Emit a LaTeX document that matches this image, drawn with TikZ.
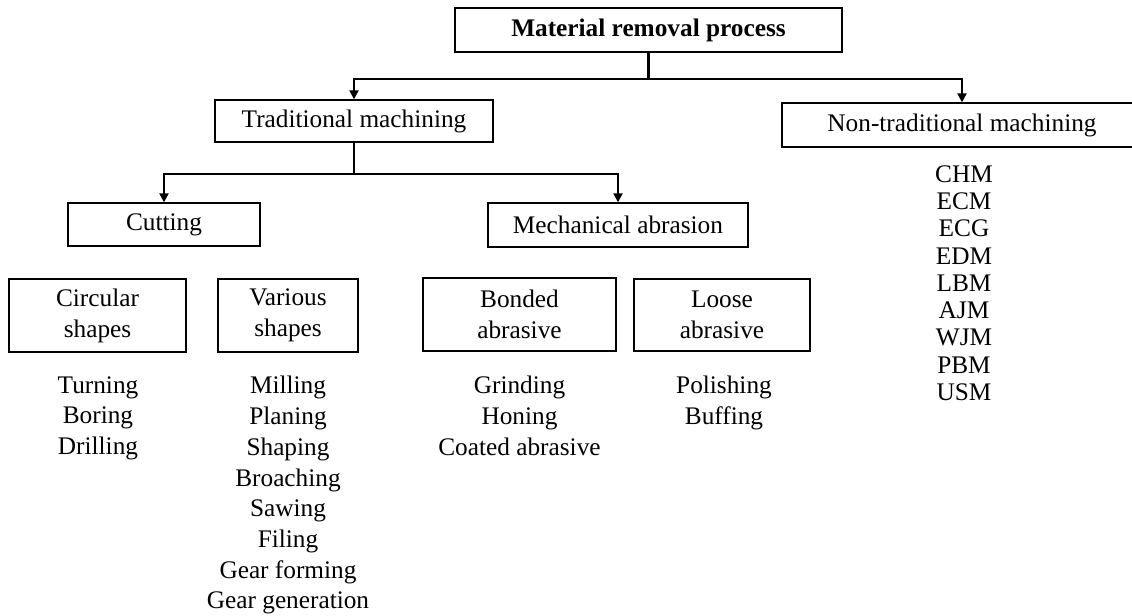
\documentclass[tikz,border=0pt]{standalone}
\usepackage{fontspec}
\setmainfont{Liberation Serif}
\usetikzlibrary{arrows.meta}
\begin{document}
\begin{tikzpicture}[x=0.5pt,y=-0.5pt,
  box/.style={draw, line width=0.7pt, inner sep=0pt, align=center,
    font=\fontsize{12.65}{15.5}\selectfont},
  lst/.style={align=center, inner sep=0pt, anchor=north,
    font=\fontsize{12.65}{15.35}\selectfont},
  lstb/.style={lst, font=\fontsize{12.65}{13.65}\selectfont},
  conn/.style={line width=1.1pt},
  arr/.style={conn, -{Triangle[length=4.5pt,width=4.5pt]}}]
\useasboundingbox (0,0) rectangle (1132,616);
% boxes
\node[box, minimum width=193.5pt, minimum height=22pt, font=\fontsize{12.65}{15.5}\selectfont\bfseries] (top) at (648.5,30) {Material removal process};
\node[box, minimum width=139pt, minimum height=21pt] (trad) at (354,121) {Traditional machining};
\node[box, minimum width=180pt, minimum height=22pt] (nt) at (962,125) {Non-traditional machining};
\node[box, minimum width=96pt, minimum height=21.5pt] (cut) at (164,224.5) {Cutting};
\node[box, minimum width=130pt, minimum height=22pt] (mech) at (618,225) {Mechanical abrasion};
\node[box, minimum width=88.5pt, minimum height=36.5pt] (circ) at (97.5,315.5) {Circular\\shapes};
\node[box, minimum width=70pt, minimum height=36.5pt] (var) at (288,315.5) {Various\\shapes};
\node[box, minimum width=96.5pt, minimum height=36.5pt] (bond) at (519.5,314.5) {Bonded\\abrasive};
\node[box, minimum width=88pt, minimum height=36pt] (loose) at (722,315) {Loose\\abrasive};
% connectors
\draw[conn] (top.south) -- ++(0,26) coordinate (j1);
\draw[arr] (j1) -| (trad.north);
\draw[arr] (j1) -| (nt.north);
\draw[conn] (trad.south) -- ++(0,31) coordinate (j2);
\draw[arr] (j2) -| (cut.north);
\draw[arr] (j2) -| (mech.north);
% lists
\node[lst] (l1) at (98,376) {Turning\\Boring\\Drilling};
\node[lst] (l2) at (288,376) {Milling\\Planing\\Shaping\\Broaching\\Sawing\\Filing\\Gear forming\\Gear generation};
\node[lst] (l3) at (519.5,376) {Grinding\\Honing\\Coated abrasive};
\node[lst] (l4) at (724,376) {Polishing\\Buffing};
\node[lstb] (l5) at (964,165) {CHM\\ECM\\ECG\\EDM\\LBM\\AJM\\WJM\\PBM\\USM};
\end{tikzpicture}
\end{document}
